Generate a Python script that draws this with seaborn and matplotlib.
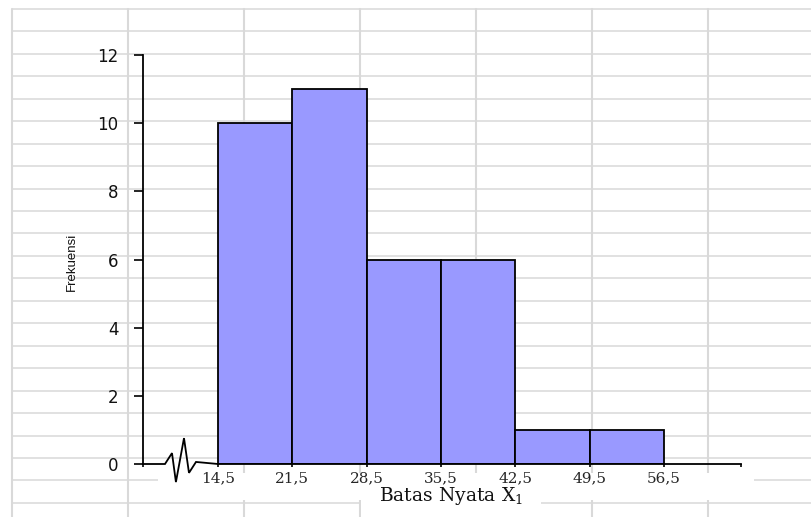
import numpy as np
import pandas as pd
import seaborn as sns
import matplotlib
matplotlib.use("Agg")
import matplotlib.pyplot as plt
from matplotlib.lines import Line2D
from matplotlib.patches import Rectangle

# Class boundaries (batas nyata) and frequencies
edges = [14.5, 21.5, 28.5, 35.5, 42.5, 49.5, 56.5]
freqs = [10, 11, 6, 6, 1, 1]
edge_labels = ["14,5", "21,5", "28,5", "35,5", "42,5", "49,5", "56,5"]
y_ticks = [0, 2, 4, 6, 8, 10, 12]

# Axis-break zigzag drawn between the origin and the first boundary
break_x = [9.51, 10.17, 10.54, 11.30, 11.77, 12.43]
break_y = [0.0, 0.32, -0.53, 0.76, -0.26, 0.06]

sns.set_style("white")
plt.rcParams["mathtext.fontset"] = "dejavuserif"

W, H = 811, 517
fig = plt.figure(figsize=(W / 100, H / 100), dpi=100)
fig.patch.set_facecolor("white")

def fx(px):
    return px / W

def fy(py):
    return 1 - py / H

# Spreadsheet cell grid behind the chart
grid_col = "#d9d9d9"
for k in range(23):
    py = 9 + 22.45 * k
    fig.add_artist(Line2D([fx(12), 1], [fy(py), fy(py)], color=grid_col,
                          lw=1.1, transform=fig.transFigure, zorder=-3))
for k in range(7):
    px = 12 + 116 * k
    fig.add_artist(Line2D([fx(px), fx(px)], [fy(9), 0], color=grid_col,
                          lw=1.5, transform=fig.transFigure, zorder=-3))

# White backing under the tick labels and axis title
fig.add_artist(Rectangle((fx(158), fy(500)), fx(754) - fx(158), fy(473) - fy(500),
                         transform=fig.transFigure, facecolor="white",
                         edgecolor="none", zorder=-2))
fig.add_artist(Rectangle((fx(361), fy(517)), fx(541) - fx(361), fy(486) - fy(517),
                         transform=fig.transFigure, facecolor="white",
                         edgecolor="none", zorder=-2))

xmin, xmax = 7.44, 63.75
ax = fig.add_axes([fx(143), fy(464), fx(741) - fx(143), fy(55) - fy(464)])
ax.set_facecolor("none")

mids = [(a + b) / 2 for a, b in zip(edges[:-1], edges[1:])]
df = pd.DataFrame({"mid": mids, "freq": freqs})
sns.histplot(data=df, x="mid", weights="freq", bins=edges, color="#9999FF",
             edgecolor="black", linewidth=1.3, alpha=1, ax=ax, zorder=2)

ax.set_xlim(xmin, xmax)
ax.set_ylim(0, 12)

for s in ["top", "right"]:
    ax.spines[s].set_visible(False)
ax.spines["left"].set_color("black")
ax.spines["left"].set_linewidth(1.3)
ax.spines["bottom"].set_color("black")
ax.spines["bottom"].set_linewidth(1.3)
ax.spines["bottom"].set_bounds(14.5, xmax)

# Broken axis segment from origin to the first boundary
ax.plot([xmin] + break_x + [14.5], [0] + break_y + [0], color="black",
        lw=1.3, clip_on=False, zorder=3, solid_joinstyle="miter")

ax.set_yticks(y_ticks)
ax.set_yticklabels([str(v) for v in y_ticks])
ax.tick_params(axis="y", direction="out", length=6.5, width=1.2, color="black",
               pad=11, labelsize=12, labelcolor="#111111", left=True)
for t in ax.get_yticklabels():
    t.set_family("DejaVu Sans")

ax.set_xticks([xmin] + edges + [xmax])
ax.set_xticklabels([""] + edge_labels + [""])
ax.tick_params(axis="x", direction="out", length=2.5, width=1.2, color="black",
               pad=2.5, labelsize=11, bottom=True)
for t in ax.get_xticklabels():
    t.set_family("DejaVu Serif")

ax.set_xlabel(r"Batas Nyata X$_1$", family="DejaVu Serif", fontsize=13.5,
              color="#111111")
ax.xaxis.set_label_coords((451 - 143) / 598, -(21 / 409))
ax.set_ylabel("Frekuensi", family="Liberation Sans", fontsize=9.5,
              color="#111111")
ax.yaxis.set_label_coords((78 - 143) / 598, 0.494)

fig.savefig("out.png", dpi=100, facecolor="white")
